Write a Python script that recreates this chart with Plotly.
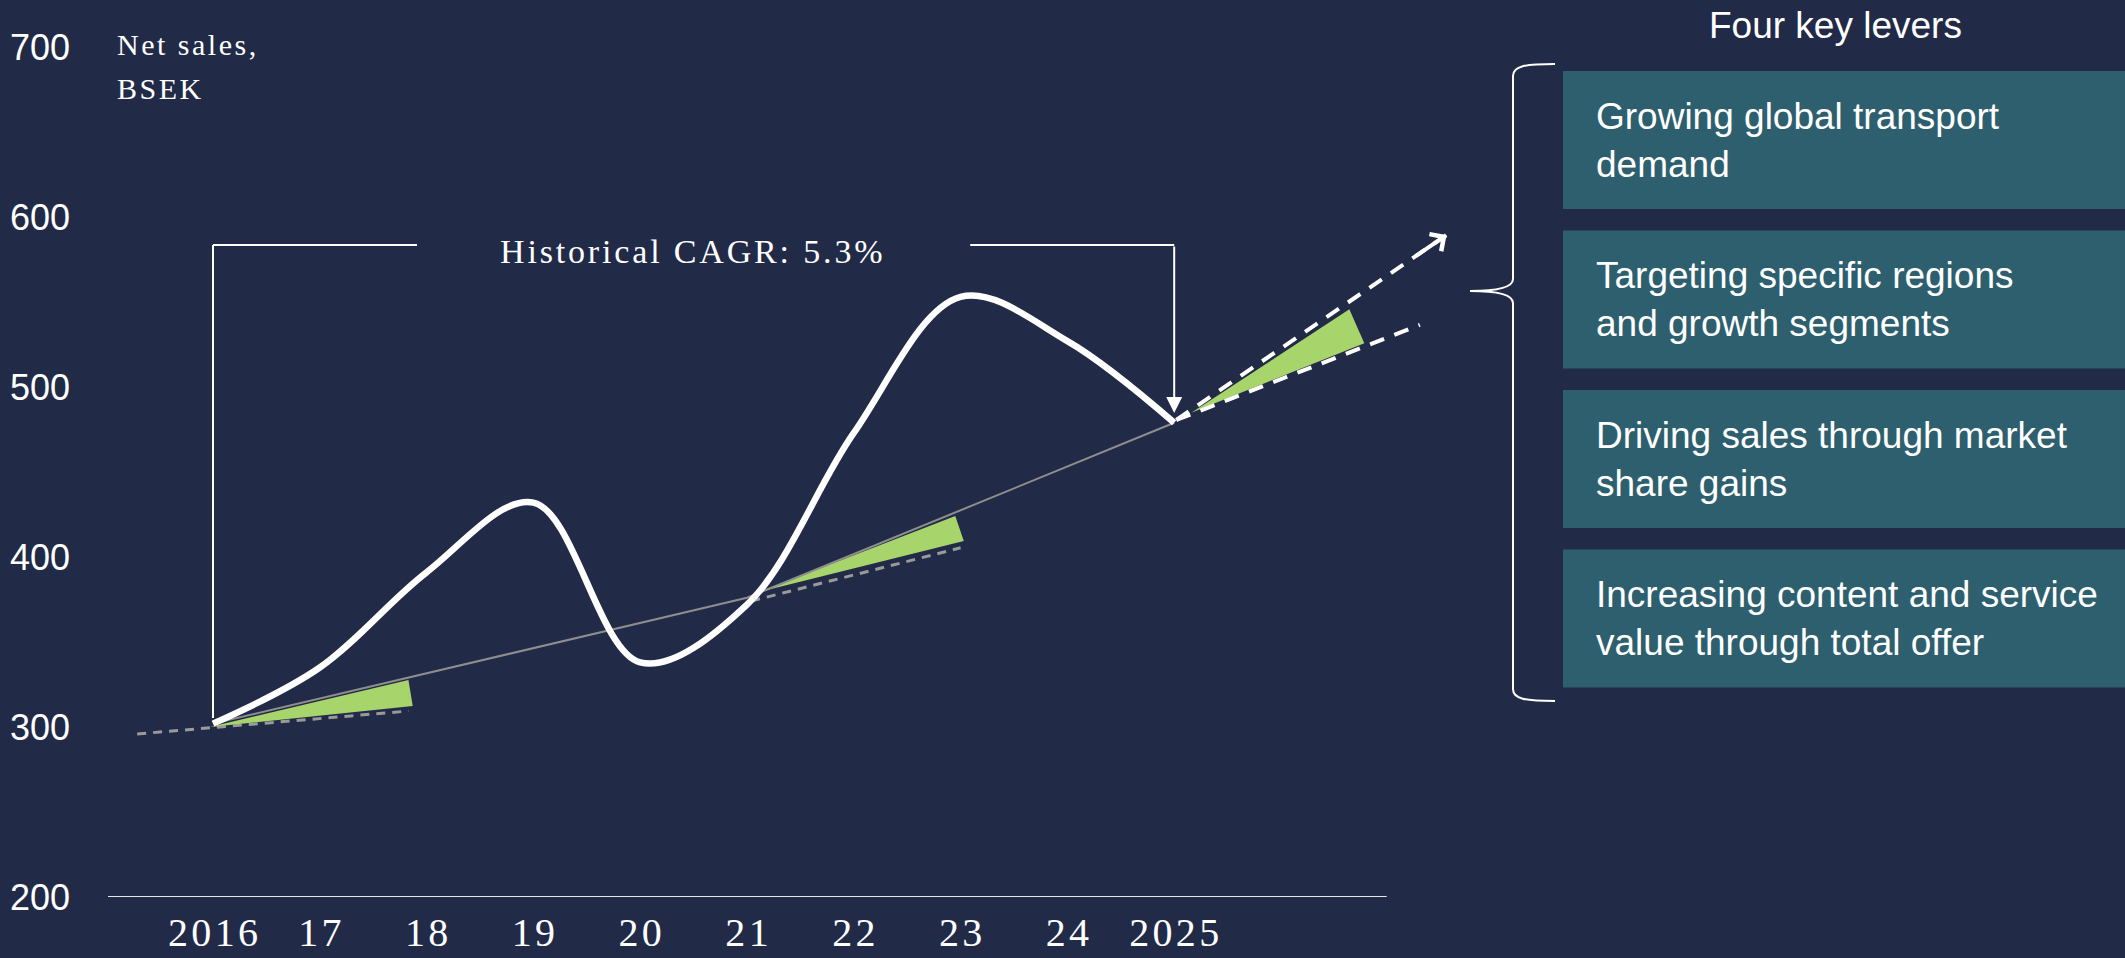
import plotly.graph_objects as go

# -- Data --------------------------------------------------------------------
years = [2016, 2017, 2018, 2019, 2020, 2021, 2022, 2023, 2024, 2025]
net_sales = [302, 335, 391, 432, 338, 372, 473, 553, 527, 479]
year_labels = ["2016", "17", "18", "19", "20", "21", "22", "23", "24", "2025"]
y_ticks = [200, 300, 400, 500, 600, 700]

# thin grey historical growth path
cagr_years = [2016, 2021, 2025]
cagr_values = [302, 376, 479]

# slower growth guides (grey dashed)
guide_a_years = [2015.29, 2017.83]
guide_a_values = [295.9, 309.4]
guide_b_years = [2021.04, 2023.0]
guide_b_values = [374.1, 405.4]

# green growth wedges
wedge_a_years = [2015.97, 2017.83, 2017.87]
wedge_a_values = [300.0, 327.6, 312.4]
wedge_b_years = [2021.12, 2022.95, 2023.03]
wedge_b_values = [379.6, 424.1, 409.4]
wedge_c_years = [2025.16, 2026.64, 2026.78]
wedge_c_values = [484.9, 545.7, 525.7]

# forward scenarios after 2025 (white dashed)
proj_high_years = [2025.02, 2027.55]
proj_high_values = [480.6, 589.4]
proj_low_years = [2025.02, 2027.30]
proj_low_values = [480.6, 536.5]

cagr_label = "Historical CAGR: 5.3%"
panel_title = "Four key levers"
levers = [
    "Growing global transport<br>demand",
    "Targeting specific regions<br>and growth segments",
    "Driving sales through market<br>share gains",
    "Increasing content and service<br>value through total offer",
]

# -- Styling / geometry ------------------------------------------------------
W, H = 2125, 958
BG = "#212a47"
GREEN = "#a8d46c"
TEAL = "#2d5f6e"
SANS = "Liberation Sans, Arial, sans-serif"
SERIF = "Liberation Serif, Times New Roman, serif"

PLOT_L, PLOT_B = 108, 61
PLOT_W, PLOT_H = W - PLOT_L, H - PLOT_B
PX_PER_YEAR, PX_2016 = 106.8, 213
PX_PER_UNIT = 1.7

x_range = [2016 - (PX_2016 - PLOT_L) / PX_PER_YEAR, 2016 + (W - PX_2016) / PX_PER_YEAR]
y_range = [200, 200 + PLOT_H / PX_PER_UNIT]


def paper_x(px):
    return (px - PLOT_L) / PLOT_W


def paper_y(py):
    return (PLOT_H - py) / PLOT_H


def spaced(s):
    # imitate the letter spacing of the original serif labels
    return "\u200a".join(s)


fig = go.Figure()

for gx, gy in [(guide_a_years, guide_a_values), (guide_b_years, guide_b_values)]:
    fig.add_trace(go.Scatter(x=gx, y=gy, mode="lines",
                             line=dict(color="#9a9a9a", width=3, dash="9px,7px")))

for wx, wy in [(wedge_a_years, wedge_a_values), (wedge_b_years, wedge_b_values),
               (wedge_c_years, wedge_c_values)]:
    fig.add_trace(go.Scatter(x=wx, y=wy, mode="lines", fill="toself",
                             fillcolor=GREEN, line=dict(width=0, color=GREEN)))

fig.add_trace(go.Scatter(x=cagr_years, y=cagr_values, mode="lines",
                         line=dict(color="#8e8e8e", width=2)))

fig.add_trace(go.Scatter(x=years, y=net_sales, mode="lines",
                         line=dict(color="white", width=6.5, shape="spline", smoothing=1.0)))

for px_, py_ in [(proj_high_years, proj_high_values), (proj_low_years, proj_low_values)]:
    fig.add_trace(go.Scatter(x=px_, y=py_, mode="lines",
                             line=dict(color="white", width=4, dash="15px,11px")))

# open arrow head on the upper scenario
dx = proj_high_years[1] - proj_high_years[0]
dy = proj_high_values[1] - proj_high_values[0]
fig.add_annotation(x=proj_high_years[1], y=proj_high_values[1],
                   ax=proj_high_years[1] - 0.12 * dx, ay=proj_high_values[1] - 0.12 * dy,
                   xref="x", yref="y", axref="x", ayref="y", text="", showarrow=True,
                   arrowhead=4, arrowsize=1, arrowwidth=4, arrowcolor="white")

# bracket around the historical period
bracket_top = 583.5
fig.add_shape(type="line", x0=2016, x1=2016, y0=305.3, y1=bracket_top,
              line=dict(color="white", width=2))
fig.add_shape(type="line", x0=2016, x1=2017.91, y0=bracket_top, y1=bracket_top,
              line=dict(color="white", width=2))
fig.add_shape(type="line", x0=2023.09, x1=2025, y0=bracket_top, y1=bracket_top,
              line=dict(color="white", width=2))
fig.add_annotation(x=2025, y=484.7, ax=2025, ay=bracket_top, xref="x", yref="y",
                   axref="x", ayref="y", text="", showarrow=True, arrowhead=2,
                   arrowsize=1.6, arrowwidth=2, arrowcolor="white")
fig.add_annotation(x=2020.48, y=580, xref="x", yref="y", text=spaced(cagr_label),
                   xanchor="center", showarrow=False,
                   font=dict(family=SERIF, size=34, color="white"))

# axis base line
fig.add_shape(type="line", x0=x_range[0], x1=2026.99, y0=200, y1=200,
              line=dict(color="#e6e6e6", width=2))

# unit label
for txt, py in [("Net sales,", 45), ("BSEK", 89)]:
    fig.add_annotation(x=paper_x(115), y=paper_y(py), xref="paper", yref="paper",
                       xanchor="left", yanchor="middle", text=spaced(txt), showarrow=False,
                       font=dict(family=SERIF, size=30, color="white"))

# right panel: brace, title and lever boxes
pts = {
    "a": (1555, 64), "b": (1513, 76), "c": (1513, 279), "d": (1470, 291),
    "e": (1513, 303), "f": (1513, 689), "g": (1555, 701),
}
P = {k: f"{paper_x(v[0]):.5f},{paper_y(v[1]):.5f}" for k, v in pts.items()}
c1 = f"{paper_x(1525):.5f},{paper_y(64):.5f} {paper_x(1513):.5f},{paper_y(66):.5f}"
c2 = f"{paper_x(1513):.5f},{paper_y(288):.5f} {paper_x(1495):.5f},{paper_y(291):.5f}"
c3 = f"{paper_x(1495):.5f},{paper_y(291):.5f} {paper_x(1513):.5f},{paper_y(294):.5f}"
c4 = f"{paper_x(1513):.5f},{paper_y(699):.5f} {paper_x(1525):.5f},{paper_y(701):.5f}"
brace = (f"M {P['a']} C {c1} {P['b']} L {P['c']} C {c2} {P['d']} "
         f"C {c3} {P['e']} L {P['f']} C {c4} {P['g']}")
fig.add_shape(type="path", path=brace, xref="paper", yref="paper",
              line=dict(color="white", width=2))

fig.add_annotation(x=paper_x(1835), y=paper_y(25), xref="paper", yref="paper",
                   xanchor="center", yanchor="middle", text=panel_title, showarrow=False,
                   font=dict(family=SANS, size=37, color="white"))

box_top, box_h, box_step = 71, 138, 159.5
for i, lever in enumerate(levers):
    top = box_top + i * box_step
    fig.add_shape(type="rect", xref="paper", yref="paper",
                  x0=paper_x(1563), x1=paper_x(W), y0=paper_y(top), y1=paper_y(top + box_h),
                  fillcolor=TEAL, line=dict(width=0), layer="below")
    fig.add_annotation(x=paper_x(1594), y=paper_y(top + box_h / 2), xref="paper", yref="paper",
                       xanchor="left", yanchor="middle", align="left", text=lever,
                       showarrow=False, font=dict(family=SANS, size=37, color="white"))

fig.update_layout(
    width=W, height=H,
    margin=dict(l=PLOT_L, r=0, t=0, b=PLOT_B),
    paper_bgcolor=BG, plot_bgcolor=BG,
    showlegend=False, hovermode=False,
)
fig.update_xaxes(range=x_range, tickvals=years, ticktext=[spaced(t) for t in year_labels],
                 showgrid=False, zeroline=False, showline=False, ticks="",
                 ticklabelstandoff=8,
                 tickfont=dict(family=SERIF, size=40, color="white"))
fig.update_yaxes(range=y_range, tickvals=y_ticks, showgrid=False, zeroline=False,
                 showline=False, ticks="", ticklabelstandoff=37,
                 tickfont=dict(family=SANS, size=36, color="white"))

fig.write_html("out.html", config={"displayModeBar": False},
               post_script="document.body.style.margin = '0';")
